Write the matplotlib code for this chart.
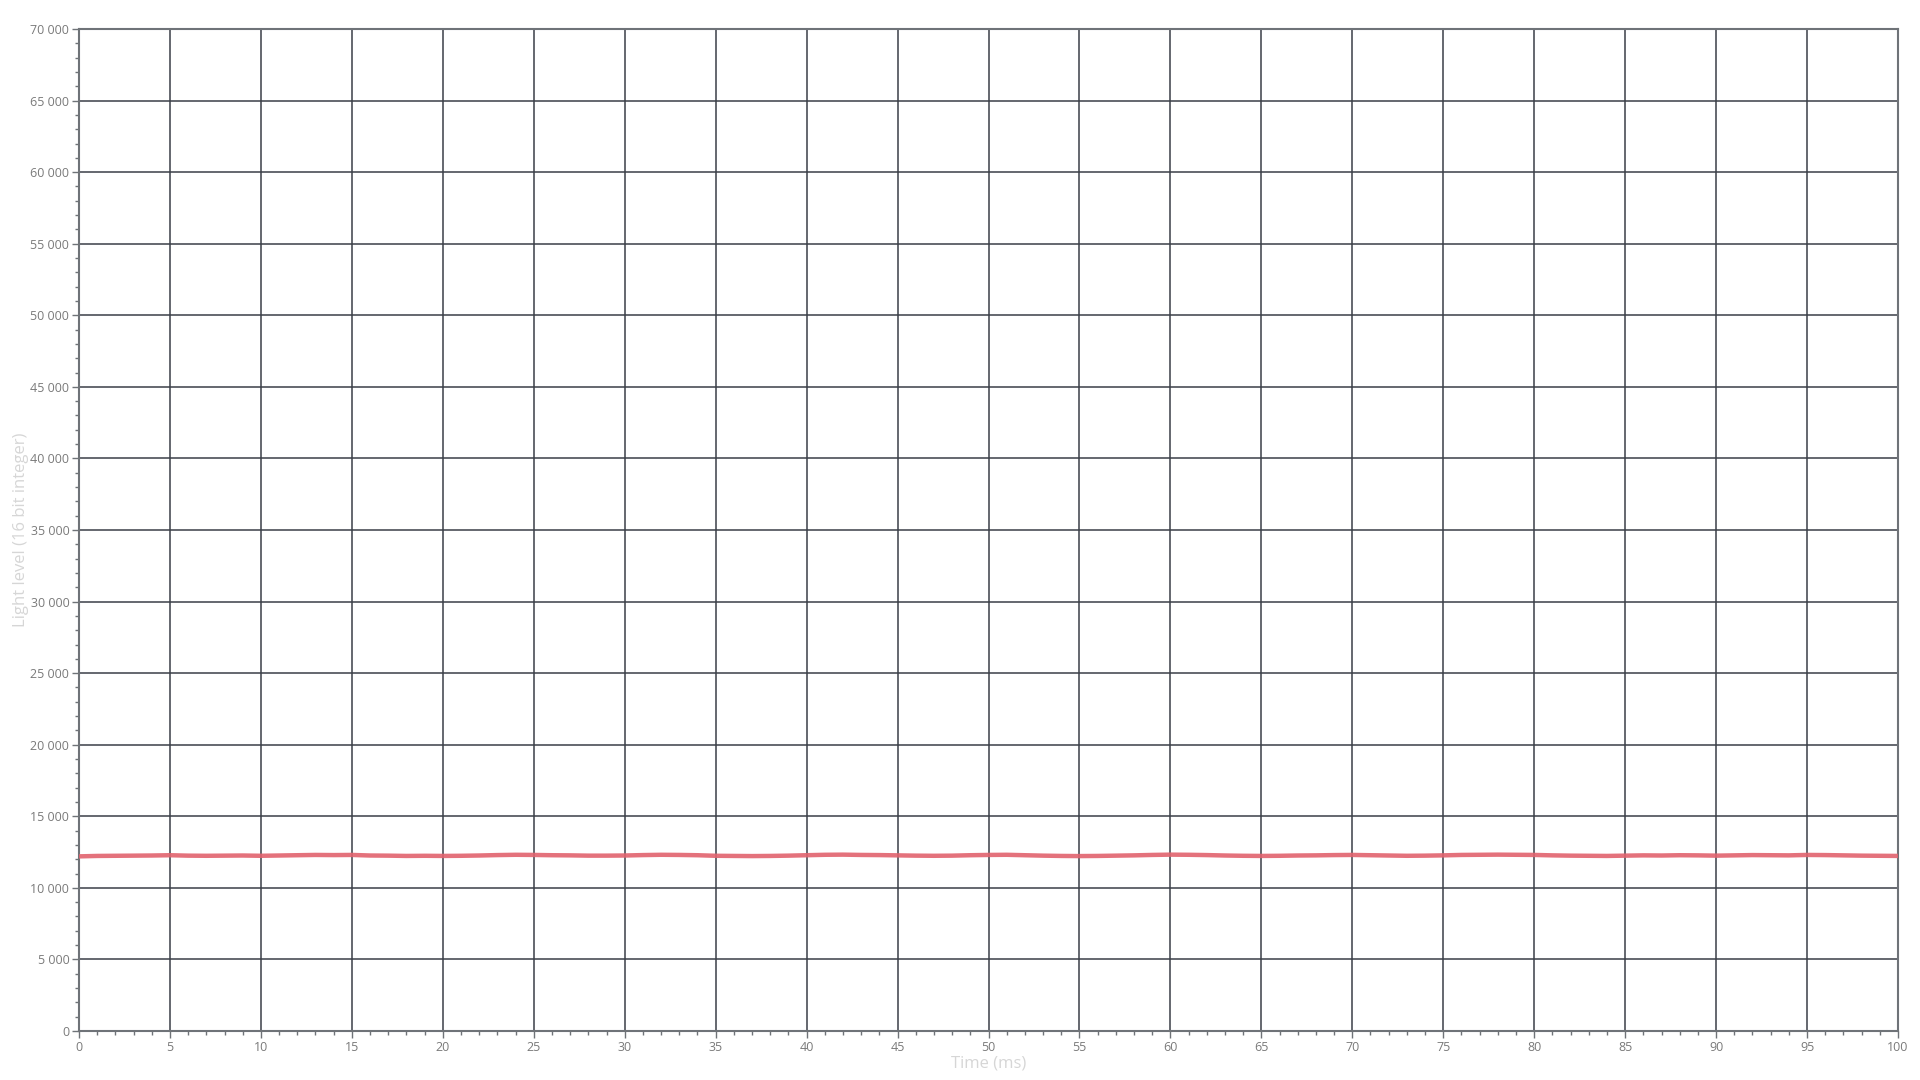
import numpy as np
import matplotlib.pyplot as plt
from matplotlib.ticker import MultipleLocator, FuncFormatter

# light level, one sample per ms
time_ms = list(range(0, 101))
light = [
    12200, 12230, 12240, 12250, 12260, 12280, 12250, 12240, 12250, 12260,
    12240, 12260, 12280, 12300, 12290, 12300, 12260, 12250, 12230, 12240,
    12230, 12240, 12260, 12290, 12310, 12300, 12280, 12270, 12250, 12250,
    12260, 12290, 12310, 12300, 12280, 12240, 12230, 12220, 12230, 12250,
    12280, 12310, 12320, 12300, 12290, 12270, 12250, 12240, 12250, 12280,
    12300, 12310, 12280, 12250, 12230, 12220, 12230, 12250, 12270, 12300,
    12320, 12310, 12290, 12260, 12240, 12230, 12240, 12260, 12270, 12290,
    12300, 12280, 12260, 12240, 12250, 12270, 12300, 12310, 12320, 12310,
    12300, 12270, 12250, 12240, 12230, 12250, 12270, 12260, 12280, 12270,
    12250, 12270, 12290, 12280, 12270, 12300, 12290, 12270, 12250, 12240,
    12230,
]

plt.rcParams['font.family'] = ['Open Sans', 'DejaVu Sans']

fig = plt.figure(figsize=(19.2, 10.8), dpi=100)
ax = fig.add_axes([79 / 1920, 1 - 1031 / 1080, (1898 - 79) / 1920, (1031 - 29) / 1080])

ax.plot(time_ms, light, color='#e2636e', lw=3.2, alpha=0.9, solid_capstyle='butt', zorder=3)

ax.set_xlim(0, 100)
ax.set_ylim(0, 70000)
ax.xaxis.set_major_locator(MultipleLocator(5))
ax.xaxis.set_minor_locator(MultipleLocator(1))
ax.yaxis.set_major_locator(MultipleLocator(5000))
ax.yaxis.set_minor_locator(MultipleLocator(1000))
ax.yaxis.set_major_formatter(FuncFormatter(lambda v, p: f"{int(v):,}".replace(',', ' ')))

ax.grid(True, which='major', color='#3b3f48', lw=1.1)
for s in ax.spines.values():
    s.set_color('#6f7378')
    s.set_linewidth(1.5)

ax.tick_params(which='major', length=5, width=1, pad=2, color='#6f7378', labelsize=9, labelcolor='#7a7a7a')
ax.tick_params(which='minor', length=3, width=1, color='#6f7378')

ax.set_xlabel('Time (ms)', color='#d6d6d6', fontsize=12, labelpad=1)
ax.set_ylabel('Light level (16 bit integer)', color='#d6d6d6', fontsize=12, labelpad=1)

fig.savefig('out.png', dpi=100)
